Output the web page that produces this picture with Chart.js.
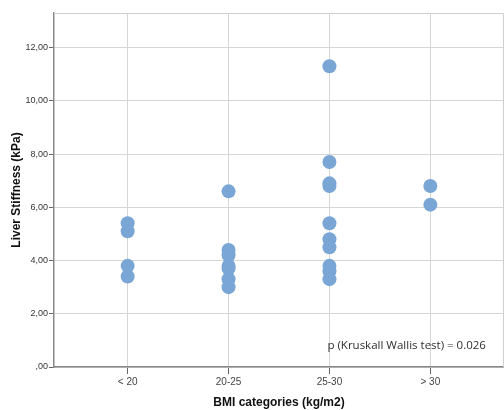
<!DOCTYPE html>
<html>
<head>
<meta charset="utf-8">
<script src="https://cdn.jsdelivr.net/npm/chart.js@4/dist/chart.umd.min.js"></script>
<style>
  html, body { margin: 0; padding: 0; background: #fff; }
  #wrap { width: 504px; height: 410px; }
</style>
</head>
<body>
<div id="wrap"><canvas id="c" width="504" height="410"></canvas></div>
<script>
// BMI categorieen en gemeten leverstijfheid (kPa) per groep
const categories = ["< 20", "20-25", "25-30", "> 30"];
const under20 = [5.4, 5.1, 3.8, 3.4];
const bmi20to25 = [6.6, 4.4, 4.2, 3.8, 3.7, 3.3, 3.0];
const bmi25to30 = [11.3, 7.7, 6.9, 6.8, 5.4, 4.8, 4.5, 3.8, 3.6, 3.3];
const over30 = [6.8, 6.1];
const yTicks = [0, 2, 4, 6, 8, 10, 12];
const pLabel = "p (Kruskall Wallis test) = 0.026";

const groups = [under20, bmi20to25, bmi25to30, over30];
const points = [];
groups.forEach((vals, i) => vals.forEach((v) => points.push({ x: i + 1, y: v })));

// Rand rond plotgebied + p-waarde tekst
const extras = {
  id: "extras",
  beforeDatasetsDraw(chart) {
    const { ctx, chartArea: a } = chart;
    ctx.save();
    ctx.strokeStyle = "#d0d0d0";
    ctx.lineWidth = 1;
    ctx.beginPath();
    ctx.moveTo(a.left, a.top + 0.5);
    ctx.lineTo(a.right - 0.5, a.top + 0.5);
    ctx.lineTo(a.right - 0.5, a.bottom);
    ctx.stroke();
    ctx.restore();
  },
  afterDatasetsDraw(chart) {
    const { ctx, scales } = chart;
    ctx.save();
    ctx.fillStyle = "#2e2e2e";
    ctx.font = "11.5px 'Open Sans', sans-serif";
    ctx.textAlign = "left";
    ctx.textBaseline = "middle";
    ctx.fillText(pLabel, scales.x.getPixelForValue(2.98), scales.y.getPixelForValue(0.8));
    ctx.restore();
  },
};

new Chart(document.getElementById("c").getContext("2d"), {
  type: "scatter",
  data: {
    datasets: [
      {
        data: points,
        backgroundColor: "rgb(122,166,214)",
        borderColor: "rgb(122,166,214)",
        borderWidth: 0,
        pointRadius: 7,
        pointHoverRadius: 7,
      },
    ],
  },
  options: {
    responsive: false,
    animation: false,
    layout: { autoPadding: false, padding: { top: 13, right: 0, left: 0, bottom: 0 } },
    plugins: { legend: { display: false }, tooltip: { enabled: false } },
    scales: {
      x: {
        type: "linear",
        min: 0.27,
        max: 4.73,
        afterBuildTicks: (s) => { s.ticks = categories.map((c, i) => ({ value: i + 1 })); },
        afterFit: (s) => { s.height = 43; },
        ticks: {
          color: "#444",
          font: { family: "'Liberation Sans', Arial, sans-serif", size: 10 },
          padding: 2,
          callback: (v) => categories[v - 1],
        },
        grid: { color: "#d6d6d6", tickColor: "#666", tickLength: 7, lineWidth: 1 },
        border: { color: "#888", width: 1.5 },
        title: {
          display: true,
          text: "BMI categories (kg/m2)",
          color: "#111",
          font: { family: "'Liberation Sans', Arial, sans-serif", size: 12, weight: "bold" },
          padding: { top: 6, bottom: 0 },
        },
      },
      y: {
        min: 0,
        max: 13.3,
        afterBuildTicks: (s) => { s.ticks = yTicks.map((v) => ({ value: v })); },
        afterFit: (s) => { s.width = 54; },
        ticks: {
          color: "#333",
          font: { family: "'Liberation Sans', Arial, sans-serif", size: 9 },
          padding: 1,
          callback: (v) => (v === 0 ? ",00" : v.toFixed(2).replace(".", ",")),
        },
        grid: { color: "#d6d6d6", tickColor: "#666", tickLength: 5, lineWidth: 1 },
        border: { color: "#888", width: 1.5 },
        title: {
          display: true,
          text: "Liver Stiffness (kPa)",
          color: "#111",
          font: { family: "'Liberation Sans', Arial, sans-serif", size: 12, weight: "bold" },
          padding: { top: 9, bottom: 2 },
        },
      },
    },
  },
  plugins: [extras],
});
</script>
</body>
</html>
